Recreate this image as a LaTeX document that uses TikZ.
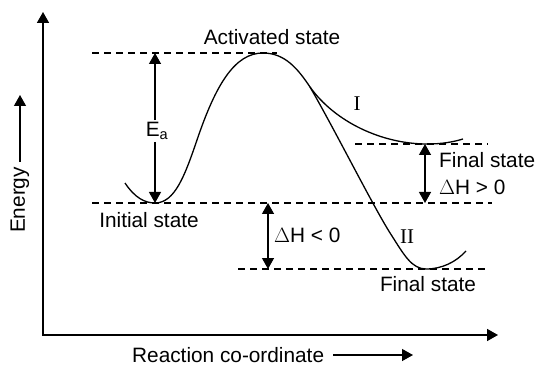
\documentclass[tikz,border=0pt]{standalone}
\usepackage{fontspec}
\setmainfont{Liberation Sans}
\newfontfamily\romanfont{Liberation Serif}
\usetikzlibrary{arrows.meta}
\tikzset{axisline/.style={line width=1.6pt,<->},curve/.style={line width=1.3pt},dashlevel/.style={line width=1.1pt,dash pattern=on 7pt off 5pt},dimarrow/.style={line width=1.3pt,<->},txt/.style={inner sep=1pt,font=\fontsize{20.8}{23}\selectfont},roman/.style={inner sep=1pt,font=\fontsize{21}{23}\romanfont}}

\begin{document}
\begin{tikzpicture}[x=1pt,y=-1pt,>={Triangle[length=11pt,width=12pt]}]
\path[use as bounding box] (0,0) rectangle (538,366);
% axes
\coordinate (ytip) at (43,12);
\coordinate (origin) at (43,335);
\coordinate (xtip) at (498,335);
\draw[axisline,line join=miter] (ytip) -- (origin) -- (xtip);
\node[txt,rotate=90] (energy) at (20,200) {Energy};
\coordinate (eup) at (20,95);
\draw[line width=1.3pt,->] (energy.east) ++(0,-4) -- (eup);
\node[txt,anchor=west] (rc) at (131,355) {Reaction co-ordinate};
\coordinate (rcend) at (413,355);
\draw[line width=1.3pt,->] ([xshift=8pt]rc.east) -- (rcend);
% energy levels
\coordinate (actL) at (92,53);
\coordinate (actR) at (277,53);
\coordinate (iniL) at (92,203);
\coordinate (iniR) at (492,203);
\coordinate (finAL) at (355,144);
\coordinate (finAR) at (488,144);
\coordinate (finBL) at (238,269);
\coordinate (finBR) at (487,269);
\draw[dashlevel] (actL) -- (actR);
\draw[dashlevel] (iniL) -- (iniR);
\draw[dashlevel] (finAL) -- (finAR);
\draw[dashlevel] (finBL) -- (finBR);
% reaction profile
\coordinate (fork) at (310,87);
\draw[curve] (125,183) .. controls (135,198) and (145,203) .. (155,203) .. controls (175,203) and (185,175) .. (197,140) .. controls (216,84) and (235,53) .. (263,53) .. controls (285,53) and (298,69) .. (fork);
\draw[curve] (fork) .. controls (335,122) and (382,144) .. (427,144) .. controls (442,144) and (453,142) .. (463,139);
\draw[curve] (fork) .. controls (335,130) and (376,212) .. (392,236) .. controls (404,255) and (412,269) .. (426,269) .. controls (442,269) and (456,262) .. (466,251);
% gaps
\node[txt,fill=white,inner sep=2pt] (ea) at (157,131) {E\textsubscript{a}};
\coordinate (eatop) at (155,53);
\coordinate (eabot) at (155,203);
\draw[line width=1.3pt,->] (ea.north -| eatop) -- (eatop);
\draw[line width=1.3pt,->] (ea.south -| eabot) -- (eabot);
\coordinate (upA) at (425,144);
\coordinate (upB) at (425,203);
\draw[dimarrow] (upA) -- (upB);
\coordinate (dnA) at (268,203);
\coordinate (dnB) at (268,269);
\draw[dimarrow] (dnA) -- (dnB);
% labels
\node[txt] (act) at (272,37) {Activated state};
\node[txt] (ini) at (149,220) {Initial state};
\node[txt,anchor=west] (finA) at (438,160) {Final state};
\node[txt,anchor=west] (dhpos) at (438,187) {$\Delta$H > 0};
\node[txt,anchor=west] (dhneg) at (273,235) {$\Delta$H < 0};
\node[txt] (finB) at (428,284) {Final state};
\node[roman] (one) at (357,104) {I};
\node[roman] (two) at (407,237) {II};
\end{tikzpicture}
\end{document}
